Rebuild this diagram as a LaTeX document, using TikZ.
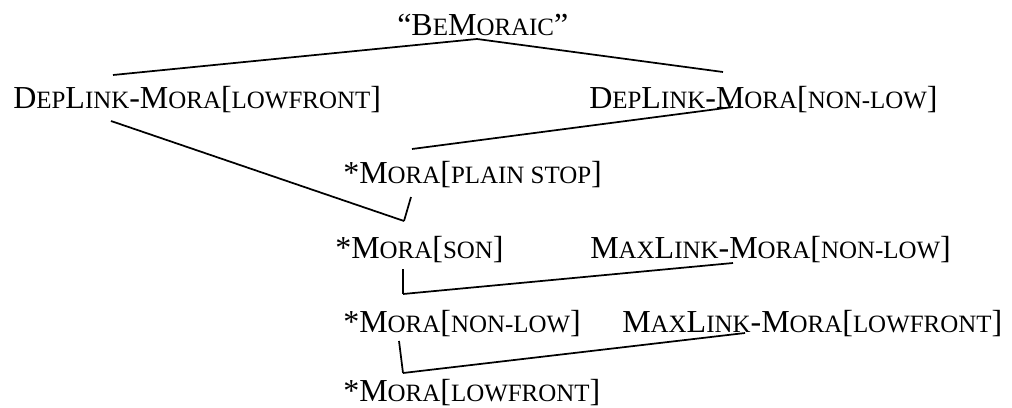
\documentclass[tikz,border=0pt]{standalone}
\usepackage{fontspec}
\setmainfont{Liberation Serif}
\usetikzlibrary{calc}
\newcommand{\smc}[1]{{\fontsize{18.7pt}{20pt}\selectfont #1}}
\begin{document}
\begin{tikzpicture}[x=0.75pt,y=-0.75pt,
    cn/.style={anchor=base west,inner sep=0pt,font=\fontsize{24pt}{28pt}\selectfont},
    link/.style={line width=1.3pt}]
  \useasboundingbox (0,0) rectangle (1012,407);
  \node[cn] (bem) at (397,35) {“B\smc{E}M\smc{ORAIC}”};
  \node[cn] (dl1) at (13,108) {D\smc{EP}L\smc{INK}-M\smc{ORA}[\smc{LOWFRONT}]};
  \node[cn] (dl2) at (589,108) {D\smc{EP}L\smc{INK}-M\smc{ORA}[\smc{NON-LOW}]};
  \node[cn] (pst) at (343,183) {*M\smc{ORA}[\smc{PLAIN STOP}]};
  \node[cn] (son) at (335,258) {*M\smc{ORA}[\smc{SON}]};
  \node[cn] (ml1) at (590,258) {M\smc{AX}L\smc{INK}-M\smc{ORA}[\smc{NON-LOW}]};
  \node[cn] (nlo) at (343,332) {*M\smc{ORA}[\smc{NON-LOW}]};
  \node[cn] (ml2) at (622,332) {M\smc{AX}L\smc{INK}-M\smc{ORA}[\smc{LOWFRONT}]};
  \node[cn] (lf) at (343,401) {*M\smc{ORA}[\smc{LOWFRONT}]};
  \foreach \a/\ax/\ay/\b/\bx/\by in {bem/80/4/dl1/100/-33, bem/80/4/dl2/134/-36,
      dl1/98/13/son/69/-37, dl2/144/-1/pst/69/-34, pst/68/14/son/69/-37,
      son/68/11/nlo/60/-38, ml1/143/5/nlo/60/-38, nlo/56/9/lf/60/-28,
      ml2/123/1/lf/60/-28} {
    \draw[link] ($(\a.base west)+(\ax,\ay)$) -- ($(\b.base west)+(\bx,\by)$);
  }
\end{tikzpicture}
\end{document}
